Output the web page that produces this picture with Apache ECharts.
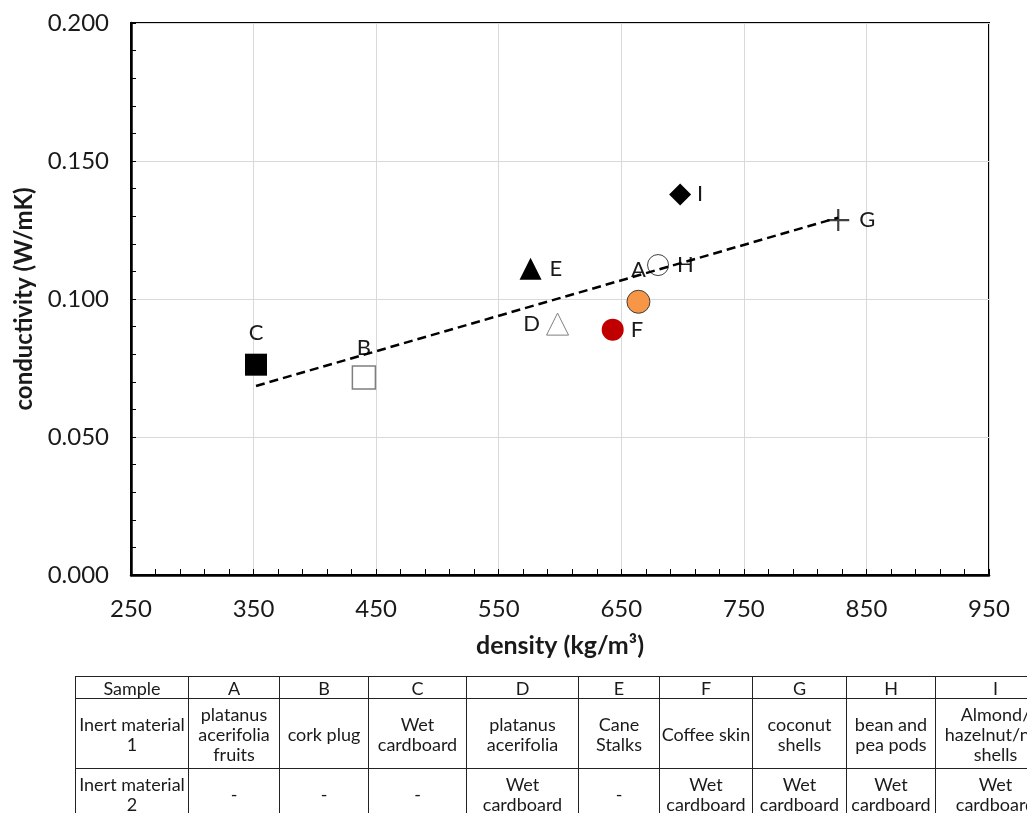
<!DOCTYPE html>
<html>
<head>
<meta charset="utf-8">
<script src="https://cdn.jsdelivr.net/npm/echarts@6/dist/echarts.min.js"></script>
<style>
  html, body { margin: 0; padding: 0; background: #fff; overflow: hidden; width: 1027px; height: 813px; }
  #chart { position: absolute; left: 0; top: 0; width: 1027px; height: 813px; }
  #wrap { position: absolute; left: 75px; top: 676px; width: 1100px; }
  #tbl {
    border-collapse: collapse; table-layout: fixed; width: 980px;
    font-family: Lato, sans-serif; font-size: 18px; color: #1a1a1a;
  }
  #tbl td { border: 1.5px solid #222; text-align: center; padding: 0 1px; line-height: 20px; vertical-align: middle; overflow: hidden; }
  #tbl tr.head td { height: 21px; }
  #tbl tr.r1 td { height: 69px; }
  #tbl tr.r2 td { height: 50px; }
</style>
</head>
<body>
<div id="chart"></div>
<div id="wrap"><table id="tbl"></table></div>
<script>
// values
const samples = ["A", "B", "C", "D", "E", "F", "G", "H", "I"];
const density = [664, 440, 352, 598, 576, 643, 827, 680, 698];
const conductivity = [0.099, 0.0716, 0.0762, 0.0909, 0.111, 0.0889, 0.1286, 0.1123, 0.1379];
// linear trend line end points
const trendDensity = [352, 827];
const trendConductivity = [0.0685, 0.1295];

const rowLabels = ["Sample", "Inert material 1", "Inert material 2"];
const inertMaterial1 = ["platanus acerifolia fruits", "cork plug", "Wet cardboard", "platanus acerifolia",
  "Cane Stalks", "Coffee skin", "coconut shells", "bean and pea pods", "Almond/ hazelnut/nut shells"];
const inertMaterial2 = ["-", "-", "-", "Wet cardboard", "-", "Wet cardboard", "Wet cardboard", "Wet cardboard", "Wet cardboard"];

// marker look per sample
const plusPath = "path://M9,0h2v9h9v2h-9v9h-2v-9h-9v-2h9z";
const markerStyle = {
  A: { symbol: "circle", size: 23, color: "#f79646", border: "#404040", bw: 1, pos: "top", dist: 9 },
  B: { symbol: "rect", size: 23, color: "#fff", border: "#7f7f7f", bw: 1.5, pos: "top", dist: 6 },
  C: { symbol: "rect", size: 22, color: "#000", border: "#000", bw: 0, pos: "top", dist: 10 },
  D: { symbol: "triangle", size: 22, color: "#fff", border: "#7f7f7f", bw: 1, pos: "left", dist: 6 },
  E: { symbol: "triangle", size: 22, color: "#000", border: "#000", bw: 0, pos: "right", dist: 8 },
  F: { symbol: "circle", size: 22, color: "#c00000", border: "#c00000", bw: 0, pos: "right", dist: 7 },
  G: { symbol: plusPath, size: 22, color: "#404040", border: "#404040", bw: 0, pos: "right", dist: 10 },
  H: { symbol: "circle", size: 21, color: "rgba(255,255,255,0)", border: "#404040", bw: 1, pos: "right", dist: 8 },
  I: { symbol: "diamond", size: 22, color: "#000", border: "#000", bw: 0, pos: "right", dist: 6 },
};

const font = "Lato";
const textColor = "#1a1a1a";

const pointSeries = samples.map((s, i) => {
  const m = markerStyle[s];
  return {
    name: s,
    type: "scatter",
    symbol: m.symbol,
    symbolSize: m.size,
    z: 3,
    itemStyle: { color: m.color, borderColor: m.border, borderWidth: m.bw, opacity: 1 },
    label: {
      show: true,
      formatter: s,
      position: m.pos,
      distance: m.dist,
      fontFamily: font,
      fontSize: 22,
      color: textColor,
    },
    data: [[density[i], conductivity[i]]],
  };
});

const chart = echarts.init(document.getElementById("chart"));
chart.setOption({
  animation: false,
  grid: {
    left: 131,
    right: 38,
    top: 23,
    bottom: 238,
    show: true,
    borderColor: "#000",
    borderWidth: 2,
    backgroundColor: "#fff",
  },
  xAxis: {
    type: "value",
    min: 250,
    max: 950,
    interval: 100,
    name: "density (kg/m³)",
    nameLocation: "middle",
    nameGap: 58,
    nameTextStyle: { fontFamily: font, fontWeight: "bold", fontSize: 25, color: textColor },
    axisLine: { lineStyle: { color: "#000", width: 2.5 } },
    axisTick: { inside: true, length: 6, lineStyle: { color: "#000", width: 1 } },
    minorTick: { show: true, splitNumber: 5, length: 6, lineStyle: { color: "#000", width: 1 } },
    axisLabel: { fontFamily: font, fontSize: 24, color: textColor, margin: 22 },
    splitLine: { lineStyle: { color: "#d9d9d9", width: 1 } },
  },
  yAxis: {
    type: "value",
    min: 0,
    max: 0.2,
    interval: 0.05,
    name: "conductivity (W/mK)",
    nameLocation: "middle",
    nameGap: 84,
    nameTextStyle: { fontFamily: font, fontWeight: "bold", fontSize: 24, color: textColor },
    axisLine: { show: true, lineStyle: { color: "#000", width: 2.5 } },
    axisTick: { show: true, inside: true, length: 5, lineStyle: { color: "#000", width: 1 } },
    minorTick: { show: true, splitNumber: 5, length: 5, lineStyle: { color: "#000", width: 1 } },
    axisLabel: {
      fontFamily: font, fontSize: 24, color: textColor, margin: 22,
      formatter: (v) => v.toFixed(3),
    },
    splitLine: { lineStyle: { color: "#d9d9d9", width: 1 } },
  },
  series: [
    ...pointSeries,
    {
      name: "trend",
      type: "line",
      symbol: "none",
      z: 4,
      lineStyle: { color: "#000", width: 2.5, type: [9, 5] },
      data: trendDensity.map((d, i) => [d, trendConductivity[i]]),
    },
  ],
});

// table under the chart
const colWidths = [113, 91, 89, 98, 112, 81, 93, 94, 89, 120];
const tbl = document.getElementById("tbl");
const cg = document.createElement("colgroup");
colWidths.forEach((w) => {
  const c = document.createElement("col");
  c.style.width = w + "px";
  cg.appendChild(c);
});
tbl.appendChild(cg);
const rows = [samples, inertMaterial1, inertMaterial2];
const rowClass = ["head", "r1", "r2"];
rows.forEach((r, ri) => {
  const tr = document.createElement("tr");
  tr.className = rowClass[ri];
  [rowLabels[ri], ...r].forEach((t) => {
    const td = document.createElement("td");
    td.textContent = t;
    tr.appendChild(td);
  });
  tbl.appendChild(tr);
});
</script>
</body>
</html>
